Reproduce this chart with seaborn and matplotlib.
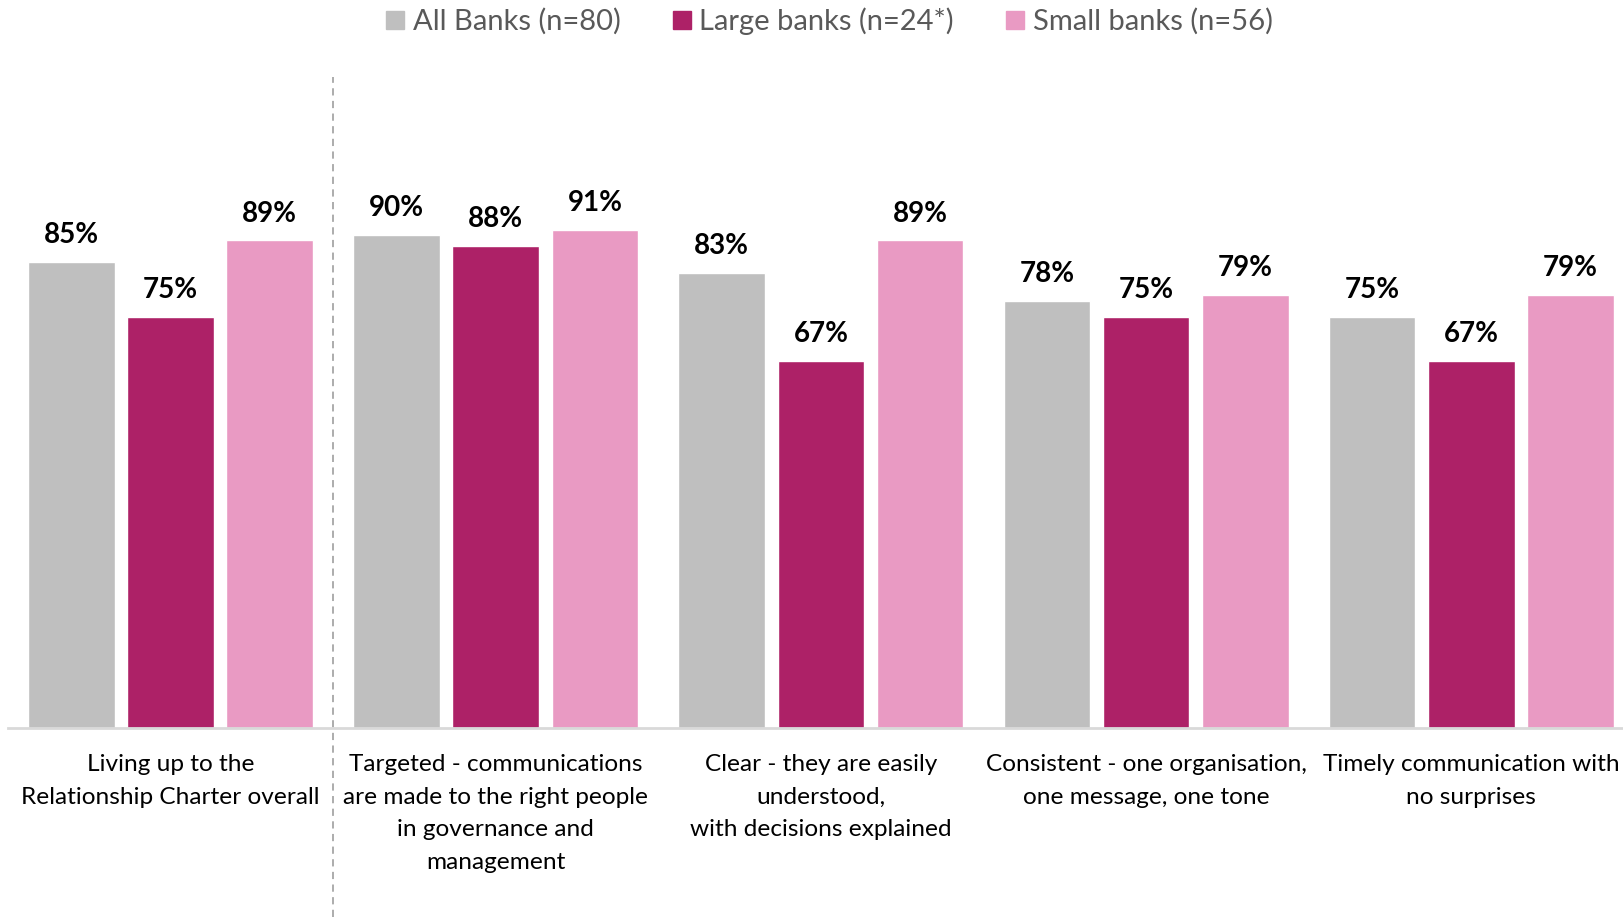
import matplotlib
matplotlib.use("Agg")
import matplotlib.pyplot as plt
from matplotlib.lines import Line2D
import seaborn as sns
import pandas as pd

categories = [
    "Living up to the\nRelationship Charter overall",
    "Targeted - communications\nare made to the right people\nin governance and\nmanagement",
    "Clear - they are easily\nunderstood,\nwith decisions explained",
    "Consistent - one organisation,\none message, one tone",
    "Timely communication with\nno surprises",
]
series_names = ["All Banks (n=80)", "Large banks (n=24*)", "Small banks (n=56)"]
all_banks = [85, 90, 83, 78, 75]
large_banks = [75, 88, 67, 75, 67]
small_banks = [89, 91, 89, 79, 79]
colors = ["#BFBFBF", "#AD2167", "#E99AC3"]

rows = []
for name, vals in zip(series_names, [all_banks, large_banks, small_banks]):
    for cat, v in zip(categories, vals):
        rows.append({"category": cat, "series": name, "value": v})
df = pd.DataFrame(rows)

sns.set_theme(style="white")
plt.rcParams["font.family"] = ["Lato", "DejaVu Sans"]

fig = plt.figure(figsize=(16.24, 9.17), dpi=100)
ax = fig.add_axes([0.005, 0.206, 0.995, 0.5975])

sns.barplot(data=df, x="category", y="value", hue="series", order=categories,
            hue_order=series_names, palette=colors, width=0.915, gap=0.125,
            saturation=1, legend=False, ax=ax)

for container in ax.containers:
    ax.bar_label(container, labels=[f"{int(v)}%" for v in container.datavalues],
                 padding=10, fontsize=20, fontweight="bold", color="black")

ax.set_xlim(-0.5, 4.47)
ax.set_ylim(0, 100)
ax.set_xlabel("")
ax.set_ylabel("")
ax.set_yticks([])
ax.tick_params(axis="x", length=0, pad=19, labelsize=17.6, labelcolor="#000000")
for lbl in ax.get_xticklabels():
    lbl.set_linespacing(1.67)
    lbl.set_verticalalignment("top")

for side in ["left", "right", "top"]:
    ax.spines[side].set_visible(False)
ax.spines["bottom"].set_color("#D9D9D9")
ax.spines["bottom"].set_linewidth(2)

# Divider between the overall score and the individual principles
ax.plot([0.5, 0.5], [-0.345, 1.188], transform=ax.get_xaxis_transform(),
        color="#A6A6A6", linestyle=(0, (4, 3)), linewidth=1.3, clip_on=False)

handles = [Line2D([0], [0], marker="s", linestyle="", markersize=13,
                  markerfacecolor=c, markeredgecolor=c) for c in colors]
fig.legend(handles, series_names, loc="center", bbox_to_anchor=(0.509, 0.977),
           ncol=3, frameon=False, fontsize=21, labelcolor="#595959",
           handletextpad=0.1, columnspacing=1.6, handlelength=1.0)

fig.savefig("out.png", dpi=100)
